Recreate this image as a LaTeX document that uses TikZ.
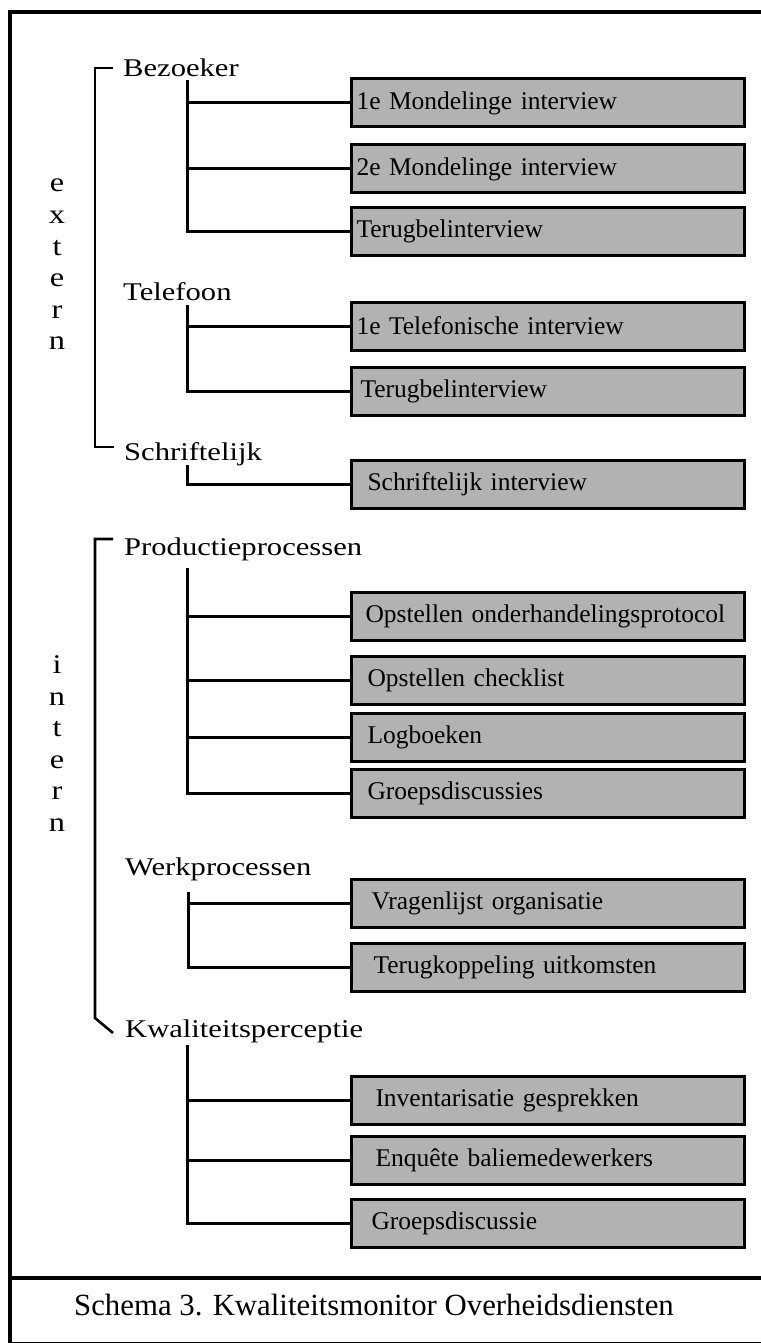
\documentclass[tikz,border=0pt]{standalone}
\usepackage{fontspec}
\setmainfont{Liberation Serif}
\newfontfamily\labfont{Liberation Serif}[FakeStretch=1.2]
\usetikzlibrary{calc}
\newcommand\labsize{\fontsize{25.5pt}{30pt}\selectfont}
\newcommand\letsize{\fontsize{27pt}{30pt}\selectfont}
\newcommand\capsize{\fontsize{30.8pt}{36pt}\selectfont}

\begin{document}
\begin{tikzpicture}[x=1pt,y=-1pt,
    lab/.style={anchor=base west,inner sep=0pt,font=\labfont\labsize},
    vlet/.style={anchor=base,inner sep=0pt,font=\labfont\letsize},
    box/.style={draw,line width=3pt,fill=black!30,anchor=west,minimum height=48pt,
                inner xsep=#1,text width=393pt-2*#1,align=left,font=\labsize},
    box/.default=5pt,
    stem/.style={line width=3pt},
    brk/.style={line width=2.6pt},
    frame/.style={line width=4.5pt}]
  \useasboundingbox (0,0) rectangle (760,1343);
  % frame and caption
  \draw[frame] (10,1346) -- (10,12) -- (765,12);
  \draw[frame] (10,1278) -- (765,1278);
  \draw[line width=1pt] (10,1342) -- (765,1342);
  \node[anchor=base,inner sep=0pt,font=\capsize] (cap) at (374,1315) {Schema 3. Kwaliteitsmonitor Overheidsdiensten};

  % vertical words
  \foreach \c [count=\i from 0] in {e,x,t,e,r,n}
    \node[vlet] (ext\i) at (57,192+31.5*\i) {\c};
  \foreach \c [count=\i from 0] in {i,n,t,e,r,n}
    \node[vlet] (int\i) at (57,673.5+31.5*\i) {\c};

  % groups
  \node[lab] (bez) at (123,77) {Bezoeker};
  \node[lab] (tel) at (123,300) {Telefoon};
  \node[lab] (schr) at (124,460) {Schriftelijk};
  \node[lab] (prod) at (124,555) {Productieprocessen};
  \node[lab] (werk) at (125,875) {Werkprocessen};
  \node[lab] (kwal) at (125,1037) {Kwaliteitsperceptie};

  % boxes
  \node[box] (b1) at (350,103) {1e Mondelinge interview};
  \node[box] (b2) at (350,169) {2e Mondelinge interview};
  \node[box] (b3) at (350,231) {Terugbelinterview};
  \node[box] (t1) at (350,326) {1e Telefonische interview};
  \node[box=9pt] (t2) at (350,391) {Terugbelinterview};
  \node[box=16pt] (s1) at (350,484) {Schriftelijk interview};
  \node[box=14pt] (p1) at (350,616) {Opstellen onderhandelingsprotocol};
  \node[box=16pt] (p2) at (350,680) {Opstellen checklist};
  \node[box=16pt] (p3) at (350,737) {Logboeken};
  \node[box=16pt] (p4) at (350,793) {Groepsdiscussies};
  \node[box=20pt] (w1) at (350,903) {Vragenlijst organisatie};
  \node[box=22pt] (w2) at (350,967) {Terugkoppeling uitkomsten};
  \node[box=24pt] (k1) at (350,1100) {Inventarisatie gesprekken};
  \node[box=24pt] (k2) at (350,1160) {Enquête baliemedewerkers};
  \node[box=20pt] (k3) at (350,1223) {Groepsdiscussie};

  % stems
  \coordinate (bezT) at (187,80);
  \coordinate (telT) at (187,305);
  \coordinate (schrT) at (187,465);
  \coordinate (prodT) at (187,568);
  \coordinate (werkT) at (188,892);
  \coordinate (kwalT) at (187,1045);
  \draw[stem] (bezT) |- (b3.west);
  \foreach \n in {b1,b2} \draw[stem] (\n.west) -- (\n.west -| bezT);
  \draw[stem] (telT) |- (t2.west);
  \draw[stem] (t1.west) -- (t1.west -| telT);
  \draw[stem] (schrT) |- (s1.west);
  \draw[stem] (prodT) |- (p4.west);
  \foreach \n in {p1,p2,p3} \draw[stem] (\n.west) -- (\n.west -| prodT);
  \draw[stem] (werkT) |- (w2.west);
  \draw[stem] (w1.west) -- (w1.west -| werkT);
  \draw[stem] (kwalT) |- (k3.west);
  \foreach \n in {k1,k2} \draw[stem] (\n.west) -- (\n.west -| kwalT);

  % brackets
  \draw[brk] ([xshift=-10pt,yshift=9pt]bez.base west) -- ++(-18,0) |- ([xshift=-10pt,yshift=13pt]schr.base west);
  \draw[brk] ([xshift=-11pt,yshift=16pt]prod.base west) -- ++(-18,0) -- ($(kwal.base west)+(-30pt,19pt)$) -- ($(kwal.base west)+(-12pt,4pt)$);
\end{tikzpicture}
\end{document}
